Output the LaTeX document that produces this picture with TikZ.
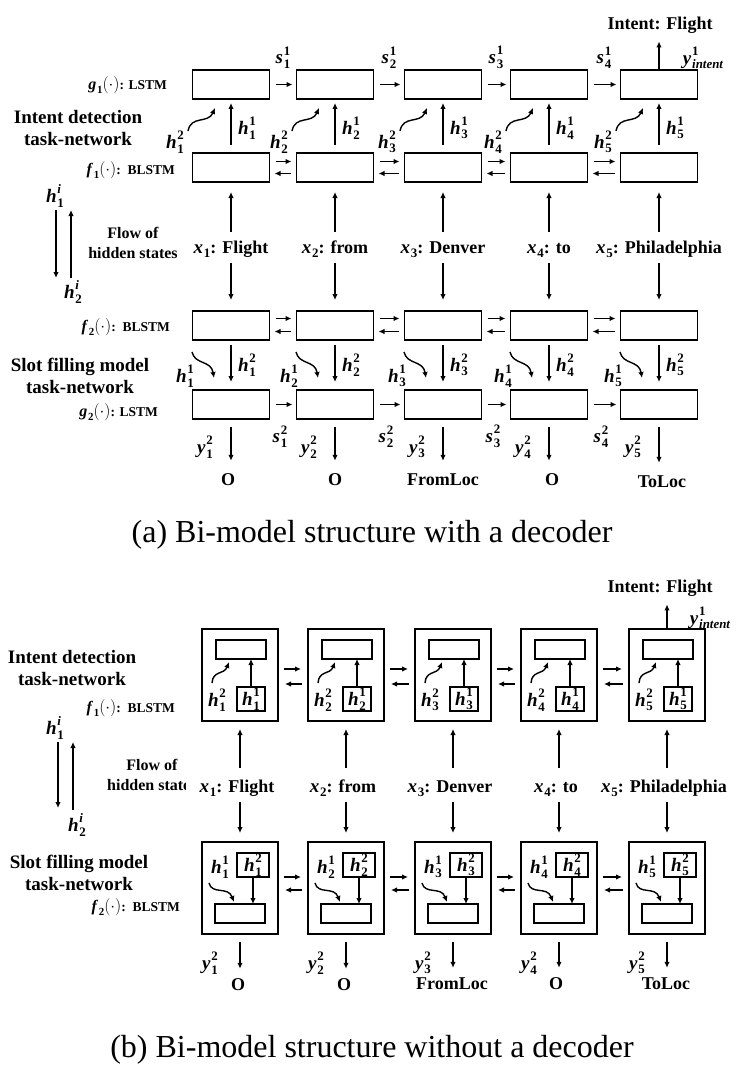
\documentclass[tikz,border=0pt]{standalone}
\usepackage{amsmath}
\usepackage{fontspec}
\setmainfont{Liberation Serif}
\usetikzlibrary{arrows.meta,calc}
\newcommand{\szA}{\fontsize{19}{22}\selectfont}
\newcommand{\szB}{\fontsize{18}{21}\selectfont}
\newcommand{\szC}{\fontsize{13.5}{15}\selectfont}
\newcommand{\szD}{\fontsize{18}{21}\selectfont}
\newcommand{\szE}{\fontsize{32}{36}\selectfont}
\newcommand{\szF}{\fontsize{16}{20}\selectfont}
\newcommand{\szG}{\fontsize{19}{22}\selectfont}
\makeatletter
\newcommand{\ssz}{\fontsize{\fpeval{0.68*\f@size}}{0}\selectfont}
\makeatother
\newcommand{\bv}[3]{\textbf{\textit{#1}}\kern.04em\makebox[0pt][l]{\raisebox{.45em}{\bfseries\ssz #3}}\raisebox{-.26em}{\bfseries\ssz #2}}
\newcommand{\bsub}[2]{\textbf{\textit{#1}}\kern.04em\raisebox{-.26em}{\bfseries\ssz #2}}
\newcommand{\fn}[2]{{\fontsize{16}{18}\selectfont\bsub{#1}{#2}$(\cdot)$}}
\begin{document}
\begin{tikzpicture}[x=1pt,y=-1pt,
 cell/.style={draw,line width=1.5pt,minimum width=77pt,minimum height=29pt,inner sep=0pt,outer sep=0pt},
 outerbox/.style={draw,line width=1.5pt,minimum width=76pt,minimum height=92pt,inner sep=0pt,outer sep=0pt},
 inrect/.style={draw,line width=1.5pt,minimum width=50pt,minimum height=19pt,inner sep=0pt,outer sep=0pt},
 smallbox/.style={draw,line width=1.5pt,minimum height=24pt,inner sep=0pt,outer sep=0pt,font=\szA},
 arr/.style={line width=1.4pt,-{Latex[length=6pt,width=5.5pt]}},
 ml/.style={inner sep=0pt,font=\szA},
 bl/.style={inner sep=0pt,font=\bfseries\szB,align=center},
 tl/.style={inner sep=0pt,font=\bfseries\szG,align=center},
 sl/.style={inner sep=0pt,font=\bfseries\szC},
 fl/.style={inner sep=0pt,font=\bfseries\szF,align=center},
 xl/.style={inner sep=0pt,font=\bfseries\szD,text height=13pt,text depth=5pt},
 captext/.style={inner sep=0pt,font=\szE}]
\useasboundingbox (0,0) rectangle (744,1078);
% ================= (a) =================
\node[sl,anchor=east] (la-g1) at (167,85) {\fn{g}{1}: LSTM};
\node[tl] (la-int) at (78,128) {Intent detection\\task-network};
\node[sl,anchor=east] (la-f1) at (175,170) {\fn{f}{1}:\, BLSTM};
\node[ml] (la-h1) at (55,196) {\bv{h}{1}{\itshape i}};
\node[ml] (la-h2) at (73,292) {\bv{h}{2}{\itshape i}};
\coordinate (la-d1) at (56,210);
\coordinate (la-d2) at (56,278);
\coordinate (la-u1) at (71,278);
\coordinate (la-u2) at (71,210);
\draw[arr] (la-d1) -- (la-d2);
\draw[arr] (la-u1) -- (la-u2);
\node[fl] (la-flow) at (133,243) {Flow of\\hidden states};
\node[sl,anchor=east] (la-f2) at (170,327) {\fn{f}{2}:\, BLSTM};
\node[tl] (la-slot) at (80,376) {Slot filling model\\task-network};
\node[sl,anchor=east] (la-g2) at (158,412) {\fn{g}{2}: LSTM};

\foreach \i/\cx/\w in {1/231/Flight,2/335/from,3/443/Denver,4/549/to,5/659/Philadelphia}{
  \node[cell] (g1-\i) at (\cx,84.5) {};
  \node[cell] (f1-\i) at (\cx,167.5) {};
  \node[cell] (f2-\i) at (\cx,325.5) {};
  \node[cell] (g2-\i) at (\cx,404.5) {};
  \node[xl] (xa-\i) at (\cx,249) {{\szA\bsub{x}{\i}}: \w};
  % f1 -> g1
  \draw[arr,shorten <=8pt,shorten >=4pt] (f1-\i.north) -- (g1-\i.south);
  \node[ml] at (\cx+16,128) {\bv{h}{\i}{1}};
  \node[ml] at (\cx-56,142) {\bv{h}{\i}{2}};
  \coordinate (cua-\i) at (\cx-43,131);
  \coordinate (cub-\i) at (\cx-16,108);
  \draw[arr] (cua-\i) .. controls (\cx-40,115) and (\cx-23,124) .. (cub-\i);
  % x -> f1, x -> f2
  \draw[arr,shorten <=8pt,shorten >=10pt] (xa-\i.north -| f1-\i.south) -- (f1-\i.south);
  \draw[arr,shorten <=5pt,shorten >=11pt] (xa-\i.south -| f2-\i.north) -- (f2-\i.north);
  % f2 -> g2
  \draw[arr,shorten <=5pt,shorten >=8pt] (f2-\i.south) -- (g2-\i.north);
  \node[ml] at (\cx+16,365) {\bv{h}{\i}{2}};
  \node[ml] at (\cx-46,376) {\bv{h}{\i}{1}};
  \coordinate (cda-\i) at (\cx-39,352);
  \coordinate (cdb-\i) at (\cx-17,378);
  \draw[arr] (cda-\i) .. controls (\cx-36,365) and (\cx-20,360) .. (cdb-\i);
  % outputs
  \node[ml] at (\cx-26,447) {\bv{y}{\i}{2}};
}
\node[bl] (oa-1) at (228,480) {O};
\node[bl] (oa-2) at (335,480) {O};
\node[bl] (oa-3) at (443,480) {FromLoc};
\node[bl] (oa-4) at (552,480) {O};
\node[bl] (oa-5) at (662,482) {ToLoc};
\foreach \i in {1,...,5}{
  \draw[arr,shorten <=8pt,shorten >=13pt] (g2-\i.south) -- (oa-\i.north -| g2-\i.south);
}
\foreach \i/\j in {1/2,2/3,3/4,4/5}{
  \draw[arr,shorten <=6pt,shorten >=4pt] (g1-\i.east) -- (g1-\j.west);
  \node[ml] at ($(g1-\i.east)!0.5!(g1-\j.west)+(0,-27)$) {\bv{s}{\i}{1}};
  \draw[arr,shorten <=6pt,shorten >=5pt] ([yshift=6pt]f1-\i.east) -- ([yshift=6pt]f1-\j.west);
  \draw[arr,shorten <=6pt,shorten >=5pt] ([yshift=-6pt]f1-\j.west) -- ([yshift=-6pt]f1-\i.east);
  \draw[arr,shorten <=6pt,shorten >=5pt] ([yshift=7pt]f2-\i.east) -- ([yshift=7pt]f2-\j.west);
  \draw[arr,shorten <=6pt,shorten >=5pt] ([yshift=-6pt]f2-\j.west) -- ([yshift=-6pt]f2-\i.east);
  \draw[arr,shorten <=6pt,shorten >=4pt] (g2-\i.east) -- (g2-\j.west);
  \node[ml] at ($(g2-\i.east)!0.5!(g2-\j.west)+(-3,32)$) {\bv{s}{\i}{2}};
}
\node[bl] (ia) at (660,25) {Intent: Flight};
\draw[arr,shorten >=8pt] (g1-5.north) -- (ia.south -| g1-5.north);
\node[ml] at (703,58) {\bv{y}{\itshape intent}{1}};
\node[captext] (capa) at (372,535) {(a) Bi-model structure with a decoder};

% ================= (b) =================
\node[tl] (lb-int) at (72,668) {Intent detection\\task-network};
\node[sl,anchor=east] (lb-f1) at (175,708) {\fn{f}{1}:\, BLSTM};
\node[ml] (lb-h1) at (55,728) {\bv{h}{1}{\itshape i}};
\node[ml] (lb-h2) at (77,825) {\bv{h}{2}{\itshape i}};
\coordinate (lb-d1) at (58,742);
\coordinate (lb-d2) at (58,808);
\coordinate (lb-u1) at (73,810);
\coordinate (lb-u2) at (73,742);
\draw[arr] (lb-d1) -- (lb-d2);
\draw[arr] (lb-u1) -- (lb-u2);
\node[fl] (lb-flow1) at (152,765) {Flow of};
\begin{scope}
\clip (0,770) rectangle (185,800);
\node[fl,anchor=west] (lb-flow2) at (107,785) {hidden states};
\end{scope}
\node[tl] (lb-slot) at (79,873) {Slot filling model\\task-network};
\node[sl,anchor=east] (lb-f2) at (180,907) {\fn{f}{2}:\, BLSTM};

\foreach \i/\cx/\w in {1/240/Flight,2/346/from,3/453/Denver,4/559/to,5/667/Philadelphia}{
  \node[outerbox] (bt-\i) at (\cx,675) {};
  \node[inrect] (bti-\i) at (\cx+1,649.5) {};
  \node[smallbox,minimum width=28pt] (bts-\i) at (\cx+11,699) {\bv{h}{\i}{1}};
  \node[ml] at (\cx-23,700) {\bv{h}{\i}{2}};
  \draw[arr] (bts-\i.north) -- (bti-\i.south -| bts-\i.north);
  \coordinate (cba-\i) at (\cx-28,683);
  \coordinate (cbb-\i) at (\cx-11,662);
  \draw[arr] (cba-\i) .. controls (\cx-27,670) and (\cx-16,675) .. (cbb-\i);
  \node[xl] (xb-\i) at (\cx-3,788) {{\szA\bsub{x}{\i}}: \w};
  \draw[arr,shorten <=11pt,shorten >=8pt] (xb-\i.north -| bt-\i.south) -- (bt-\i.south);
  \node[outerbox] (bb-\i) at (\cx,888) {};
  \draw[arr,shorten <=5pt,shorten >=9pt] (xb-\i.south -| bb-\i.north) -- (bb-\i.north);
  \node[smallbox,minimum width=32pt] (bbs-\i) at (\cx+13,865) {\bv{h}{\i}{2}};
  \node[ml] at (\cx-20,867) {\bv{h}{\i}{1}};
  \node[inrect] (bbi-\i) at (\cx,913.5) {};
  \draw[arr] (bbs-\i.south) -- (bbi-\i.north -| bbs-\i.south);
  \coordinate (cbc-\i) at (\cx-31,883);
  \coordinate (cbd-\i) at (\cx-6,902);
  \draw[arr] (cbc-\i) .. controls (\cx-28,895) and (\cx-12,886) .. (cbd-\i);
  \node[ml] at (\cx-30,963) {\bv{y}{\i}{2}};
}
\node[bl] (ob-1) at (238,985) {O};
\node[bl] (ob-2) at (344,985) {O};
\node[bl] (ob-3) at (452,984) {FromLoc};
\node[bl] (ob-4) at (556,984) {O};
\node[bl] (ob-5) at (666,984) {ToLoc};
\foreach \i in {1,...,5}{
  \draw[arr,shorten <=8pt,shorten >=10pt] (bb-\i.south) -- (ob-\i.north -| bb-\i.south);
}
\foreach \i/\j in {1/2,2/3,3/4,4/5}{
  \draw[arr,shorten <=6pt,shorten >=7pt] ([yshift=6pt]bt-\i.east) -- ([yshift=6pt]bt-\j.west);
  \draw[arr,shorten <=6pt,shorten >=7pt] ([yshift=-9pt]bt-\j.west) -- ([yshift=-9pt]bt-\i.east);
  \draw[arr,shorten <=6pt,shorten >=7pt] ([yshift=11pt]bb-\i.east) -- ([yshift=11pt]bb-\j.west);
  \draw[arr,shorten <=6pt,shorten >=7pt] ([yshift=-2pt]bb-\j.west) -- ([yshift=-2pt]bb-\i.east);
}
\node[bl] (ib) at (660,588) {Intent: Flight};
\draw[arr,shorten >=8pt] (bt-5.north) -- (ib.south -| bt-5.north);
\node[ml] at (710,618) {\bv{y}{\itshape intent}{1}};
\node[captext] (capb) at (372,1050) {(b) Bi-model structure without a decoder};
\end{tikzpicture}
\end{document}
